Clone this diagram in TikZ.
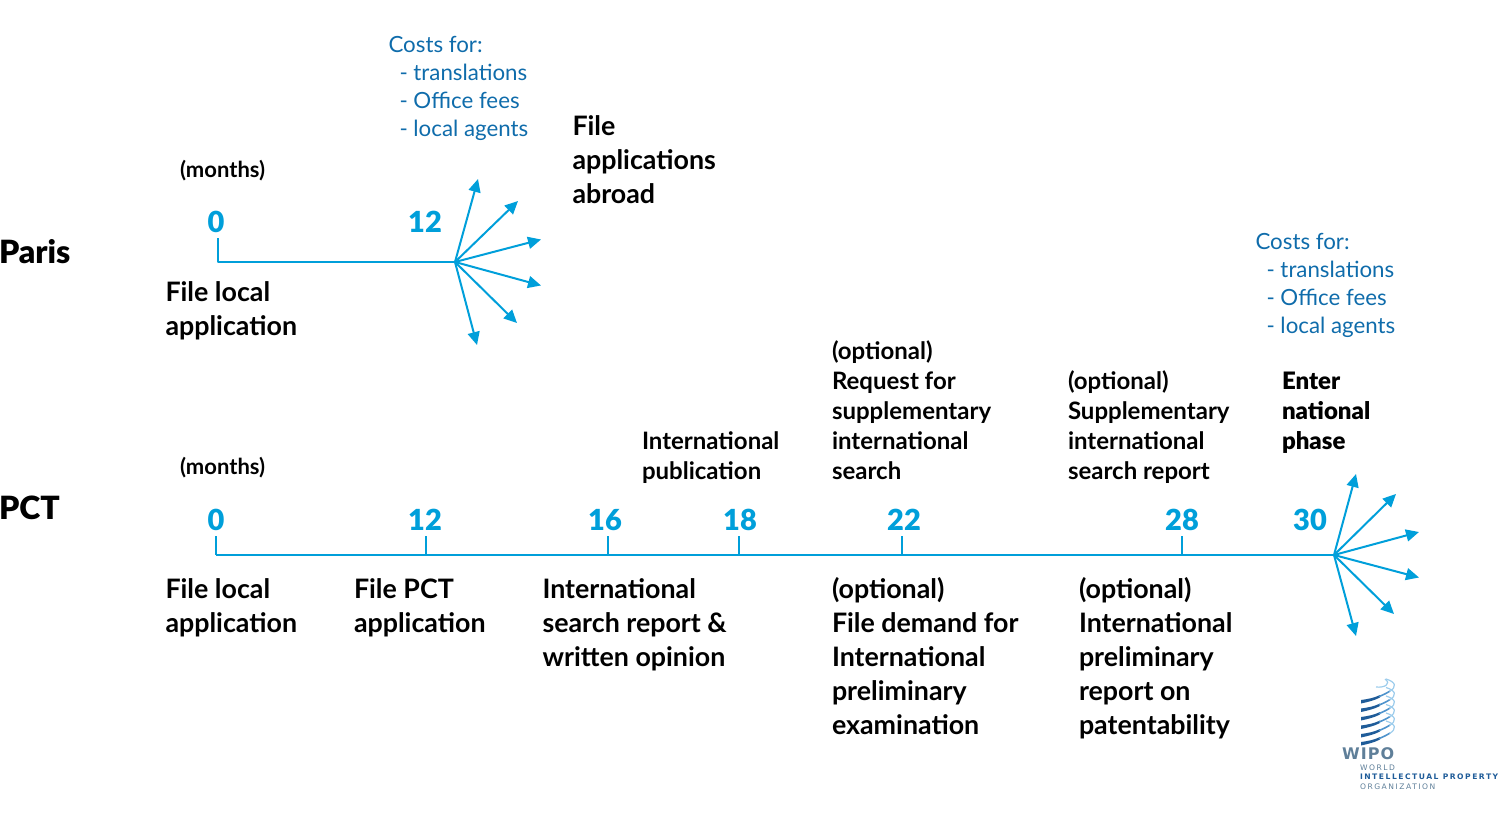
\documentclass[tikz,border=0pt]{standalone}
\usepackage{fontspec}
\setmainfont{Lato}
\newfontfamily\heavyfont{Lato Black}
\newfontfamily\logofont[LetterSpace=20]{DejaVu Sans}
\newfontfamily\wipofont[LetterSpace=7]{DejaVu Sans}
\usetikzlibrary{arrows.meta}
\definecolor{axisblue}{HTML}{009FDA}
\definecolor{costblue}{HTML}{0F6CAB}
\definecolor{logodark}{HTML}{1F5C99}
\definecolor{logomid}{HTML}{4E93CC}
\definecolor{logolight}{HTML}{9CCCEC}
\definecolor{logogray}{HTML}{5F7F99}
\tikzset{
  x=1pt,y=-1pt,
  every node/.style={inner sep=0pt,outer sep=0pt,anchor=north west,align=left},
  axis/.style={draw=axisblue,line width=2pt},
  fan/.style={axis,-{Stealth[length=13pt,width=12pt,inset=0pt]}},
  bigtext/.style={font=\fontsize{26.8}{34}\selectfont\bfseries},
  midtext/.style={font=\fontsize{24}{30}\selectfont\bfseries},
  heavytext/.style={font=\fontsize{24}{30}\selectfont\heavyfont},
  costtext/.style={font=\fontsize{22.3}{28}\selectfont,text=costblue},
  monthtext/.style={font=\fontsize{22}{25}\selectfont\bfseries},
  rowtext/.style={font=\fontsize{32}{40}\selectfont\heavyfont},
  numtext/.style={font=\fontsize{29}{30}\selectfont\heavyfont,text=axisblue,anchor=base},
  logotext/.style={font=\logofont\bfseries\fontsize{7.6}{9}\selectfont,text=logodark,anchor=base west},
  logothin/.style={font=\logofont\fontsize{7.6}{9}\selectfont,text=logogray,anchor=base west},
}
\begin{document}
\begin{tikzpicture}
\useasboundingbox (0,0) rectangle (1500,825);
% Row labels
\node[rowtext] (paris) at (-1,235) {\strut Paris};
\node[rowtext] (pct) at (-1,491) {\strut PCT};
% Paris axis
\coordinate (p0) at (218,238);
\coordinate (pc) at (218,262);
\coordinate (p12) at (455,262);
\draw[axis,line join=round] (p0) -- (pc) -- (p12);
\foreach \n/\x/\y in {a/478/179,b/518/201,c/541/239.5,d/541/285.5,e/517/323,f/477/345}{
  \coordinate (pt\n) at (\x,\y);
  \draw[fan] (p12) -- (pt\n);
}
\node[monthtext] (m1) at (180,159.5) {\strut(months)};
\node[numtext] (pn0) at (216,232) {0};
\node[numtext] (pn12) at (425,232) {12};
\node[bigtext] (pf) at (165.5,277.2) {\strut File local\\application};
\node[costtext] (c1) at (388.5,32.4) {\strut Costs for:\\[0pt]\hspace*{11pt}- translations\\\hspace*{11pt}- Office fees\\\hspace*{11pt}- local agents};
\node[bigtext] (pa) at (572.5,111.2) {\strut File\\applications\\abroad};
% PCT axis
\coordinate (a0) at (216,555);
\coordinate (aend) at (1334,555);
\draw[axis] (a0) -- (aend);
\foreach \n/\x in {0/216,12/426,16/608,18/739,22/902,28/1182}{
  \coordinate (tt\n) at (\x,536);
  \coordinate (tb\n) at (\x,555);
  \draw[axis] (tt\n) -- (tb\n);
}
\foreach \n/\x/\y in {a/1356/474,b/1396/494,c/1419/532,d/1419/577.5,e/1394/614,f/1356/636}{
  \coordinate (at\n) at (\x,\y);
  \draw[fan] (aend) -- (at\n);
}
\node[monthtext] (m2) at (180,456.5) {\strut(months)};
\foreach \t/\x in {0/216,12/425,16/605,18/740,22/904,28/1182,30/1310}{
  \node[numtext] (n\t) at (\x,530) {\t};
}
\node[bigtext] (t1) at (165.5,574.2) {\strut File local\\application};
\node[bigtext] (t2) at (354,574.2) {\strut File PCT\\application};
\node[bigtext] (t3) at (542.5,574.2) {\strut International\\search report \&\\written opinion};
\node[bigtext] (t4) at (832,574.2) {\strut (optional)\\File demand for\\International\\preliminary\\examination};
\node[bigtext] (t5) at (1079,574.2) {\strut (optional)\\International\\preliminary\\report on\\patentability};
\node[midtext] (u1) at (642,428.5) {\strut International\\publication};
\node[midtext] (u2) at (832,338.5) {\strut (optional)\\Request for\\supplementary\\international\\search};
\node[midtext] (u3) at (1068,368.5) {\strut (optional)\\Supplementary\\international\\search report};
\node[heavytext] (u4) at (1282,368.5) {\strut Enter\\national\\phase};
\node[costtext] (c2) at (1255.5,229.4) {\strut Costs for:\\\hspace*{11pt}- translations\\\hspace*{11pt}- Office fees\\\hspace*{11pt}- local agents};
% WIPO logo
\foreach \y in {700,708.5,717,725.5,734,742}{
  \fill[logodark] (1361,\y) .. controls (1368,\y-1) and (1374,\y-2) .. (1380,\y-5)
     -- (1380,\y-2.5) .. controls (1374,\y+0.5) and (1368,\y+2) .. (1361,\y+3.5) -- cycle;
  \draw[logomid,line width=1.6pt] (1379,\y-3.5) .. controls (1383,\y-5) and (1387,\y-7) .. (1390,\y-9);
  \draw[logolight,line width=1.2pt] (1389.5,\y-8.5) .. controls (1397,\y-13) and (1396,\y-18) .. (1386,\y-21);
}
\draw[logolight,line width=1.2pt] (1376,687) .. controls (1384,688) and (1392,684) .. (1385,679);
\node[font=\wipofont\bfseries\fontsize{16}{16}\selectfont,text=logogray,anchor=base west] (w) at (1342,759) {WIPO};
\node[logothin] (w1) at (1360,770) {WORLD};
\node[logotext] (w2) at (1360,779) {INTELLECTUAL PROPERTY};
\node[logothin] (w3) at (1360,789) {ORGANIZATION};
\end{tikzpicture}
\end{document}
